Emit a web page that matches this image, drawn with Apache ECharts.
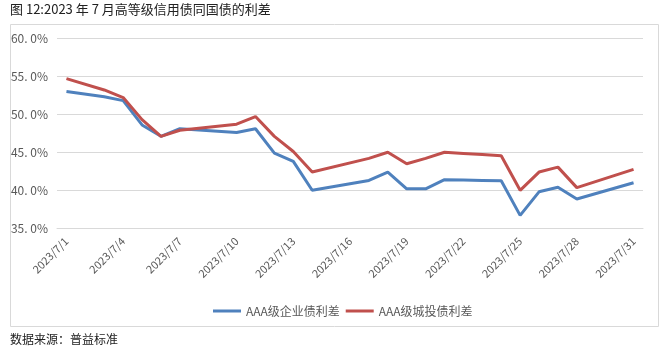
<!DOCTYPE html>
<html><head><meta charset="utf-8">
<script src="https://cdn.jsdelivr.net/npm/echarts@6/dist/echarts.min.js"></script>
<style>html,body{margin:0;padding:0;background:#fff}#c{width:667px;height:352px}</style>
</head><body><div id="c"></div>
<script>
const categories = ["2023/7/1","2023/7/2","2023/7/3","2023/7/4","2023/7/5","2023/7/6","2023/7/7","2023/7/8","2023/7/9","2023/7/10","2023/7/11","2023/7/12","2023/7/13","2023/7/14","2023/7/15","2023/7/16","2023/7/17","2023/7/18","2023/7/19","2023/7/20","2023/7/21","2023/7/22","2023/7/23","2023/7/24","2023/7/25","2023/7/26","2023/7/27","2023/7/28","2023/7/29","2023/7/30","2023/7/31"];
const corpSpread = [53.0,null,52.3,51.8,48.6,47.1,48.1,null,null,47.6,48.1,44.9,43.8,40.0,null,null,41.3,42.4,40.2,40.2,41.4,41.35,41.3,41.25,36.7,39.8,40.4,38.85,null,null,41.0];
const lgfvSpread = [54.7,null,53.2,52.2,49.3,47.1,47.9,null,null,48.7,49.7,47.1,45.1,42.4,null,null,44.2,45.0,43.5,44.2,45.0,44.85,44.7,44.55,40.0,42.4,43.05,40.35,null,null,42.75];
const seriesNames = ["AAA级企业债利差","AAA级城投债利差"];
const titleText = "图 12:2023 年 7 月高等级信用债同国债的利差";
const sourceText = "数据来源：普益标准";

const chart = echarts.init(document.getElementById('c'), null, {renderer:'canvas'});
const font = "'Noto Sans CJK SC', 'Noto Sans', sans-serif";
chart.setOption({
  animation:false,
  textStyle:{fontFamily:font},
  graphic:[
    {type:'rect', shape:{x:10.5,y:24.5,width:648,height:302}, style:{fill:'none',stroke:'#D9D9D9',lineWidth:1}, silent:true},
    {type:'text', left:10, top:3, style:{text:titleText, font:"13px "+font, fill:'#222'}},
    {type:'text', left:10, top:333, style:{text:sourceText, font:"12px "+font, fill:'#222'}}
  ],
  grid:{left:57, right:24, top:38.3, bottom:123.7},
  legend:{
    left:208, top:300, icon:'rect', itemWidth:28, itemHeight:3, itemGap:6,
    textStyle:{color:'#595959', fontSize:12, fontFamily:font},
    data:seriesNames
  },
  xAxis:{
    type:'category', data:categories, boundaryGap:true,
    axisLine:{lineStyle:{color:'#D9D9D9'}},
    axisTick:{interval:2, length:4, lineStyle:{color:'#D9D9D9'}},
    axisLabel:{interval:2, rotate:45, color:'#595959', fontSize:11, margin:11}
  },
  yAxis:{
    type:'value', min:35, max:60, interval:5,
    axisLine:{show:false}, axisTick:{show:false},
    splitLine:{lineStyle:{color:'#D9D9D9'}},
    axisLabel:{color:'#595959', fontSize:12, margin:9, formatter:v=>v.toFixed(1).replace('.', '. ')+'%'}
  },
  series:[
    {name:seriesNames[0], type:'line', data:corpSpread, connectNulls:true, showSymbol:false, symbol:'none',
     lineStyle:{color:'#4F81BD', width:3}, itemStyle:{color:'#4F81BD'}},
    {name:seriesNames[1], type:'line', data:lgfvSpread, connectNulls:true, showSymbol:false, symbol:'none',
     lineStyle:{color:'#C0504D', width:3}, itemStyle:{color:'#C0504D'}}
  ]
});
</script></body></html>
